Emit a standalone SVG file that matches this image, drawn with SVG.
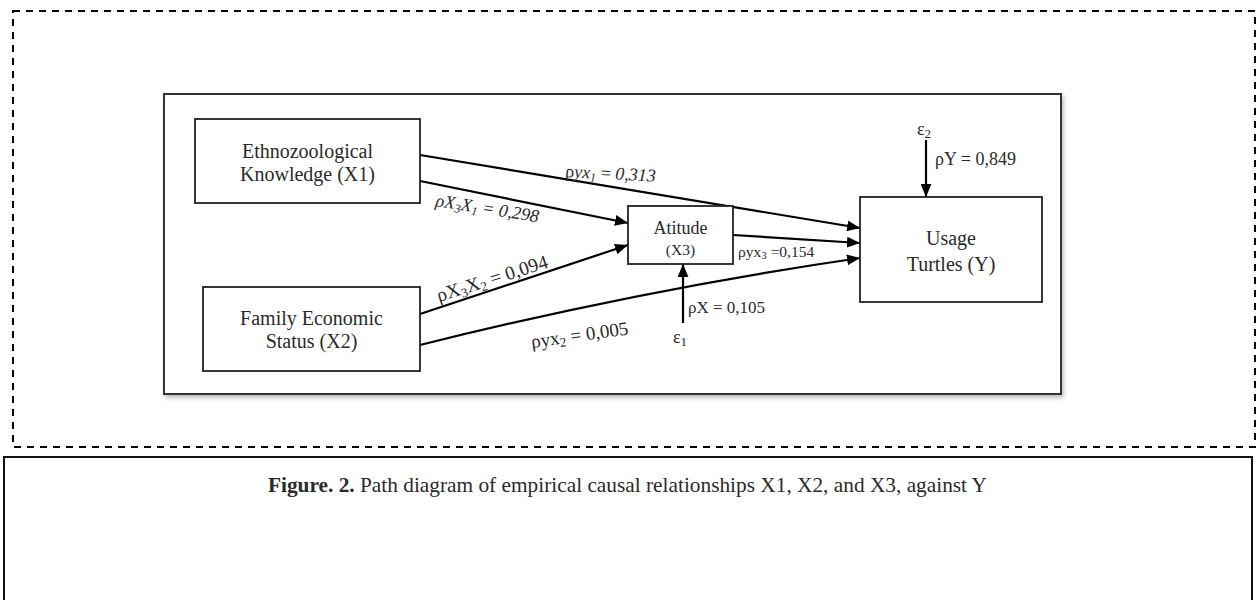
<svg xmlns="http://www.w3.org/2000/svg" width="1257" height="600" viewBox="0 0 1257 600">
<defs>
<marker id="ahb" viewBox="0 0 12 10" refX="12" refY="5" markerWidth="13" markerHeight="11" markerUnits="userSpaceOnUse" orient="auto">
<path d="M0,0 L12,5 L0,10 z" fill="#000"/>
</marker>
<filter id="sh" x="-5%" y="-5%" width="110%" height="115%">
<feDropShadow dx="2" dy="3" stdDeviation="2" flood-color="#000" flood-opacity="0.25"/>
</filter>
</defs>
<style>
text{font-family:"Liberation Serif","Times New Roman",serif;fill:#2a2a2a}
.box{fill:#fff;stroke:#222;stroke-width:1.8}
.lbl{font-size:20px}
.c{stroke:#000;stroke-width:2.2;fill:none;marker-end:url(#ahb)}
.it{font-style:italic}
</style>
<rect width="1257" height="600" fill="#fff"/>
<rect x="13" y="11" width="1242" height="436" fill="none" stroke="#000" stroke-width="2" stroke-dasharray="7,6"/>
<rect x="4" y="457" width="1248" height="160" fill="none" stroke="#111" stroke-width="2"/>
<rect x="164" y="94" width="897" height="300" fill="#fff" stroke="#333" stroke-width="2" filter="url(#sh)"/>

<g id="connectors">
<path id="e-x1-y" class="c" d="M420,155 L860,228"/>
<path id="e-x1-x3" class="c" d="M420,181 L628,223"/>
<path id="e-x2-x3" class="c" d="M420,314 L628,245"/>
<path id="e-x2-y" class="c" d="M420,345 Q640,290 860,258"/>
<path id="e-x3-y" class="c" d="M733,235 L860,243"/>
<path id="e-e1-x3" class="c" d="M683,323 L683,264"/>
<path id="e-e2-y" class="c" d="M926,140 L926,197"/>
</g>

<g id="n-x1">
<rect class="box" x="195" y="119" width="225" height="84"/>
<text class="lbl" x="307.5" y="158" text-anchor="middle">Ethnozoological</text>
<text class="lbl" x="307.5" y="181" text-anchor="middle">Knowledge (X1)</text>
</g>
<g id="n-x2">
<rect class="box" x="203" y="287" width="217" height="84"/>
<text class="lbl" x="311.5" y="325" text-anchor="middle">Family Economic</text>
<text class="lbl" x="311.5" y="348" text-anchor="middle">Status (X2)</text>
</g>
<g id="n-x3">
<rect class="box" x="628" y="206" width="105" height="58"/>
<text x="680.5" y="234" text-anchor="middle" font-size="18">Atitude</text>
<text x="680.5" y="255" text-anchor="middle" font-size="15.5">(X3)</text>
</g>
<g id="n-y">
<rect class="box" x="860" y="197" width="182" height="105"/>
<text x="951" y="245" text-anchor="middle" font-size="20">Usage</text>
<text x="951" y="271" text-anchor="middle" font-size="20">Turtles (Y)</text>
</g>
<g id="n-e2">
<text x="924" y="135" text-anchor="middle" font-size="18">ε<tspan font-size="13" dy="3">2</tspan></text>
<text x="935" y="165" font-size="18">ρY = 0,849</text>
</g>
<g id="n-e1">
<text x="680" y="343" text-anchor="middle" font-size="18">ε<tspan font-size="13" dy="3">1</tspan></text>
<text x="688" y="313" font-size="17">ρX = 0,105</text>
</g>

<g id="labels">
<text x="565" y="177" font-size="18" transform="rotate(3 565 177)">ρ<tspan class="it">yx</tspan><tspan class="it" font-size="12" dy="3">1</tspan><tspan dy="-3"> = </tspan><tspan class="it">0,313</tspan></text>
<text x="435" y="206" font-size="18" class="it" transform="rotate(9 435 206)">ρX<tspan font-size="12" dy="3">3</tspan><tspan dy="-3">X</tspan><tspan font-size="12" dy="3">1</tspan><tspan dy="-3"> = 0,298</tspan></text>
<text x="439" y="302" font-size="19.5" transform="rotate(-17.5 439 302)">ρX<tspan font-size="13" dy="3">3</tspan><tspan dy="-3">X</tspan><tspan font-size="13" dy="3">2</tspan><tspan dy="-3"> = 0,094</tspan></text>
<text x="532" y="348" font-size="19" transform="rotate(-8 532 348)">ρyx<tspan font-size="13" dy="3">2</tspan><tspan dy="-3"> = 0,005</tspan></text>
<text x="738" y="257" font-size="15.5">ρyx<tspan font-size="11" dy="2">3</tspan><tspan dy="-2"> =0,154</tspan></text>
</g>

<text x="268" y="492" font-size="21" textLength="719" lengthAdjust="spacingAndGlyphs"><tspan font-weight="bold">Figure. 2.</tspan> Path diagram of empirical causal relationships X1, X2, and X3, against Y</text>
</svg>
